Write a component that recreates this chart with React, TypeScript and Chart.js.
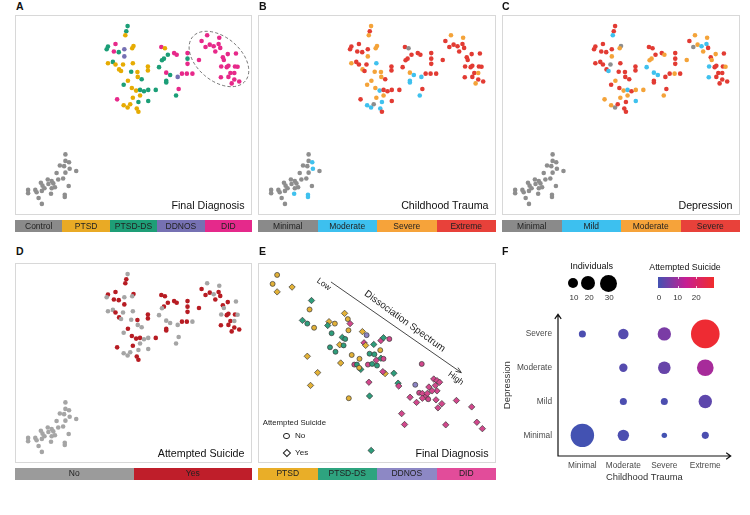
import React, { useEffect, useRef } from "react";
import { Chart, registerables } from "chart.js";

Chart.register(...registerables);

const FONT = "'Liberation Sans', Arial, Helvetica, sans-serif";
Chart.defaults.font.family = FONT;

// ---------- Panels A–D: one shared 2-D embedding of all participants ----------
const embedX = [
  33.7, 33.3, 33.0, 30.0, 27.7, 27.3, 29.5, 31.0, 32.7, 32.7,
  35.5, 35.1, 27.7, 29.2, 30.0, 31.1, 31.7, 32.3, 35.3, 34.8,
  36.7, 39.9, 39.9, 32.5, 33.8, 36.8, 38.0, 35.0, 36.3, 37.5,
  38.7, 40.0, 42.3, 37.5, 35.3, 30.5, 40.0, 37.0, 32.5, 33.7,
  34.5, 36.5, 37.0,
  44.0, 45.1, 46.0, 47.9, 48.7, 52.0, 52.0, 44.8, 44.2, 43.3,
  52.0, 45.5, 46.7, 45.5, 45.5, 49.0, 50.3, 51.8, 53.5, 49.3,
  48.5, 55.5,
  58.0, 61.7, 56.3, 57.5, 58.8, 60.0, 61.5, 60.5, 62.0, 64.3,
  66.8, 62.8, 63.1, 64.5, 62.3, 64.0, 66.5, 67.3, 65.1, 66.3,
  62.2, 66.3, 67.8, 65.5, 64.5,
  14.7, 13.0, 14.7, 15.8, 14.3, 18.0, 16.0, 12.0, 14.0, 14.7,
  12.5, 9.3, 10.5, 11.0, 9.5, 7.2, 7.7, 8.3, 7.5, 5.5,
  5.9, 3.3, 3.3, 10.5, 11.5, 10.3, 14.5, 14.5, 15.7, 6.5, 7.5,
];
const embedY = [
  57.3, 55.7, 54.5, 51.8, 51.0, 50.2, 49.5, 49.3, 50.2, 48.0,
  51.2, 50.5, 45.9, 46.3, 45.5, 44.0, 43.5, 45.5, 45.9, 43.3,
  43.2, 44.9, 43.7, 39.3, 40.5, 41.7, 41.0, 38.3, 37.5, 37.7,
  37.3, 37.7, 37.7, 36.0, 35.3, 34.8, 34.3, 34.0, 33.0, 32.3,
  33.3, 32.0, 31.0,
  50.9, 50.5, 48.5, 49.0, 48.5, 49.0, 47.3, 47.3, 46.8, 44.7,
  45.7, 43.0, 42.3, 40.5, 40.0, 41.7, 42.7, 42.7, 42.7, 38.0,
  36.0, 46.9,
  54.5, 53.7, 52.7, 50.9, 51.6, 51.1, 51.8, 49.5, 50.6, 48.7,
  48.9, 47.7, 46.9, 45.1, 44.9, 44.7, 44.9, 44.8, 42.9, 42.9,
  41.6, 40.9, 40.3, 39.7, 41.7,
  17.9, 14.5, 15.9, 15.5, 14.3, 12.8, 13.5, 12.2, 10.5, 12.3,
  10.2, 10.2, 9.7, 9.0, 8.8, 9.2, 8.3, 7.5, 6.7, 7.0,
  6.3, 7.0, 6.0, 7.5, 7.8, 5.8, 5.5, 4.8, 8.2, 4.5, 2.7,
];
// 0 Control, 1 PTSD, 2 PTSD-DS, 3 DDNOS, 4 DID
const finalDiagnosis = [
  2, 2, 1, 4, 2, 2, 4, 2, 3, 3,
  1, 1, 1, 2, 1, 1, 1, 1, 1, 2,
  1, 1, 1, 2, 1, 1, 2, 1, 1, 2,
  2, 2, 2, 1, 1, 4, 2, 2, 1, 1,
  1, 1, 1,
  4, 1, 2, 4, 4, 4, 2, 2, 2, 2,
  4, 4, 2, 2, 2, 3, 4, 4, 4, 4,
  2, 4,
  4, 4, 4, 4, 4, 4, 4, 4, 4, 4,
  4, 4, 4, 4, 4, 4, 4, 4, 4, 4,
  4, 4, 4, 4, 4,
  0, 0, 0, 0, 0, 0, 0, 0, 0, 0,
  0, 0, 0, 0, 0, 0, 0, 0, 0, 0,
  0, 0, 0, 0, 0, 0, 0, 0, 0, 0, 0,
];
// 0 Minimal, 1 Moderate, 2 Severe, 3 Extreme
const childhoodTrauma = [
  2, 3, 2, 3, 3, 3, 3, 3, 3, 2,
  2, 2, 2, 3, 3, 2, 3, 3, 1, 2,
  2, 3, 3, 2, 2, 2, 3, 2, 1, 3,
  3, 3, 3, 2, 2, 3, 3, 1, 1, 1,
  0, 1, 3,
  3, 0, 3, 3, 3, 3, 3, 3, 3, 3,
  3, 2, 1, 1, 1, 1, 3, 3, 3, 3,
  1, 3,
  2, 2, 3, 3, 3, 3, 3, 3, 3, 3,
  3, 3, 3, 3, 3, 3, 3, 3, 3, 2,
  3, 3, 3, 2, 3,
  0, 0, 0, 1, 0, 0, 1, 0, 0, 0,
  0, 0, 0, 0, 0, 0, 0, 0, 0, 0,
  0, 0, 0, 0, 0, 1, 1, 1, 0, 0, 0,
];
// 0 Minimal, 1 Mild, 2 Moderate, 3 Severe
const depression = [
  3, 3, 1, 3, 3, 3, 3, 3, 3, 2,
  0, 2, 3, 3, 3, 3, 1, 0, 3, 3,
  3, 3, 3, 3, 2, 3, 3, 3, 2, 1,
  3, 2, 2, 2, 2, 2, 1, 3, 2, 0,
  3, 3, 3,
  3, 3, 3, 3, 2, 3, 3, 2, 2, 1,
  3, 1, 1, 3, 3, 3, 3, 2, 3, 3,
  2, 2,
  2, 2, 3, 0, 2, 1, 1, 2, 3, 2,
  3, 3, 2, 3, 1, 3, 3, 2, 3, 3,
  1, 3, 3, 3, 3,
  0, 0, 0, 0, 0, 0, 0, 0, 0, 0,
  0, 0, 0, 0, 0, 0, 0, 0, 0, 0,
  0, 0, 0, 0, 0, 0, 0, 0, 0, 0, 0,
];
// 0 No, 1 Yes
const attemptedSuicide = [
  0, 1, 1, 1, 1, 0, 1, 1, 0, 1,
  1, 0, 0, 0, 1, 1, 0, 0, 0, 0,
  1, 1, 1, 0, 1, 0, 0, 1, 1, 1,
  0, 0, 1, 0, 1, 1, 0, 0, 0, 0,
  0, 1, 1,
  1, 1, 1, 1, 1, 1, 1, 1, 0, 0,
  1, 0, 0, 1, 1, 0, 1, 1, 0, 0,
  0, 1,
  0, 0, 1, 1, 1, 0, 1, 1, 1, 1,
  0, 1, 0, 1, 0, 1, 1, 0, 1, 0,
  1, 1, 1, 1, 1,
  0, 0, 0, 0, 0, 0, 0, 0, 0, 0,
  0, 0, 0, 0, 0, 0, 0, 0, 0, 0,
  0, 0, 0, 0, 0, 0, 0, 0, 0, 0, 0,
];

const diagnosisLabels = ["Control", "PTSD", "PTSD-DS", "DDNOS", "DID"];
const traumaLabels = ["Minimal", "Moderate", "Severe", "Extreme"];
const depressionLabels = ["Minimal", "Mild", "Moderate", "Severe"];
const suicideLabels = ["No", "Yes"];

// ---------- Panel E: dissociation embedding of patients ----------
const eX = [
  4.7, 3.3, 4.7, 9.3, 15.3, 14.7, 12.5, 14.0, 16.1, 20.7,
  20.3, 22.5, 25.5, 26.5, 27.2, 26.7, 21.5, 24.8, 25.7, 24.0,
  25.2, 21.0, 22.7, 31.0, 32.3, 31.5, 32.0, 34.5, 36.7, 37.5,
  39.3, 36.5, 27.7, 33.2, 34.7, 30.1, 28.5, 29.3, 30.5, 30.0,
  32.7, 34.0, 35.5, 35.3, 36.7, 38.0, 37.3, 40.7, 24.3, 14.0,
  17.2, 15.0, 33.0, 42.0, 42.2, 49.3, 47.3, 48.5, 49.5, 50.5,
  51.5, 45.7, 47.7, 49.5, 51.3, 53.0, 54.0, 54.8, 53.5, 54.0,
  52.5, 51.0, 53.7, 55.5, 54.3, 60.0, 26.8, 33.2, 43.1, 44.0,
  56.7, 64.7, 66.3, 68.0, 33.7, 37.5,
];
const eY = [
  57.5, 54.7, 52.2, 53.7, 49.5, 46.7, 43.3, 42.3, 41.0, 42.9,
  41.7, 42.3, 45.5, 43.7, 42.3, 40.2, 39.3, 38.0, 37.5, 35.7,
  35.5, 34.9, 33.5, 39.8, 38.7, 36.3, 35.5, 35.8, 37.0, 37.9,
  37.5, 34.0, 32.5, 32.9, 32.7, 31.3, 29.5, 29.5, 28.0, 28.5,
  29.5, 29.7, 29.2, 30.9, 31.5, 26.7, 27.3, 26.8, 30.0, 32.1,
  27.0, 23.0, 24.0, 23.7, 22.8, 29.7, 23.2, 20.7, 20.5, 19.5,
  22.5, 19.3, 17.7, 19.0, 18.7, 25.0, 24.5, 24.0, 23.0, 21.3,
  21.3, 20.5, 18.5, 17.3, 16.0, 18.3, 19.0, 19.7, 14.2, 10.8,
  10.7, 16.3, 11.5, 9.5, 2.7, 31.3,
];
const eDiagnosis = [
  1, 1, 1, 1, 2, 1, 2, 2, 1, 1,
  2, 1, 1, 1, 4, 1, 2, 2, 2, 1,
  2, 2, 2, 1, 3, 4, 1, 2, 4, 2,
  4, 1, 1, 2, 2, 1, 4, 2, 2, 1,
  4, 2, 2, 4, 2, 1, 4, 2, 1, 1,
  1, 1, 4, 2, 4, 4, 3, 4, 4, 4,
  4, 4, 4, 4, 4, 4, 4, 4, 4, 4,
  4, 4, 4, 4, 4, 4, 1, 2, 4, 4,
  4, 4, 4, 4, 2, 4,
];
const eSuicide = [
  0, 0, 1, 1, 1, 0, 1, 0, 0, 1,
  1, 0, 1, 0, 1, 0, 0, 1, 0, 1,
  0, 0, 0, 1, 0, 1, 1, 1, 1, 1,
  0, 0, 0, 0, 0, 0, 0, 0, 1, 0,
  0, 0, 0, 1, 1, 1, 1, 1, 1, 1,
  1, 1, 1, 1, 1, 0, 0, 0, 1, 1,
  1, 1, 1, 1, 0, 1, 1, 1, 1, 1,
  1, 1, 1, 1, 1, 1, 0, 1, 1, 1,
  1, 1, 1, 1, 1, 0,
];

// ---------- Panel F: individuals / attempted suicide per cell ----------
// columns follow traumaLabels
const individualsDepMinimal = [55, 13, 3, 5];
const individualsDepMild = [0, 5, 5, 18];
const individualsDepModerate = [0, 7, 16, 28];
const individualsDepSevere = [5, 11, 18, 82];
const suicideDepMinimal = [0, 1, 0, 1];
const suicideDepMild = [0, 1, 1, 3];
const suicideDepModerate = [0, 2, 4, 11];
const suicideDepSevere = [1, 2, 6, 28];
const sizeLegendValues = [10, 20, 30];
const colorLegendTicks = [0, 10, 20];
const suicideMax = 29;

// ---------- styling ----------
const diagnosisPoint = ["#8e8e8e", "#E6AB02", "#1B9E77", "#7570B3", "#E7298A"];
const diagnosisBar = ["#8a8a8a", "#E9AA25", "#1E9E77", "#7671B3", "#E5298B"];
const severityPoint = ["#8e8e8e", "#3FC1EE", "#F4A339", "#E23B33"];
const severityBar = ["#8a8a8a", "#3DC0EF", "#F6A33A", "#E8413A"];
const suicidePoint = ["#a5a5a5", "#B71C23"];
const suicideBar = ["#9b9b9b", "#BF1E2A"];
const eFill = ["", "#E2B137", "#2E9D7B", "#8C84C4", "#D2478C"];
const eBar = ["#E9AE28", "#2EA47F", "#8D88C5", "#E24C9A"];

const didEllipse = { cx: 61.6, cy: 47.2, a: 10.5, b: 6.7, angleDeg: 40 };
const spectrumArrow = { fromX: 21.3, fromY: 55.3, toX: 61.5, toY: 27.0 };

const gradStops: [number, number[]][] = [
  [0, [67, 82, 178]],
  [0.5, [199, 30, 147]],
  [1, [241, 44, 44]],
];
function suicideColor(v: number) {
  const t = Math.max(0, Math.min(1, v / suicideMax));
  for (let i = 0; i < gradStops.length - 1; i++) {
    const [t0, c0] = gradStops[i];
    const [t1, c1] = gradStops[i + 1];
    if (t <= t1) {
      const u = (t - t0) / (t1 - t0);
      const c = c0.map((v0, k) => Math.round(v0 + (c1[k] - v0) * u));
      return `rgb(${c[0]},${c[1]},${c[2]})`;
    }
  }
  return "rgb(241,44,44)";
}
const sizeOf = (n: number) => 1.58 * Math.sqrt(n);

type Box = { left: number; top: number; width: number; height: number };

function ChartCanvas({ box, build }: { box: Box; build: () => any }) {
  const ref = useRef<HTMLCanvasElement | null>(null);
  useEffect(() => {
    if (!ref.current) return;
    const chart = new Chart(ref.current, build());
    return () => chart.destroy();
  }, []);
  return (
    <canvas
      ref={ref}
      width={box.width}
      height={box.height}
      style={{ position: "absolute", left: box.left, top: box.top, width: box.width, height: box.height }}
    />
  );
}

function scatterOptions() {
  return {
    responsive: false,
    animation: false,
    devicePixelRatio: 1,
    events: [],
    layout: { padding: 0 },
    plugins: { legend: { display: false }, tooltip: { enabled: false } },
    scales: {
      x: { type: "linear", min: 0, max: 71, display: false },
      y: { type: "linear", min: 0, max: 60, display: false },
    },
  };
}

const ellipsePlugin = {
  id: "didEllipse",
  afterDatasetsDraw(chart: any) {
    const { ctx, scales } = chart;
    const x = scales.x, y = scales.y;
    const cx = x.getPixelForValue(didEllipse.cx);
    const cy = y.getPixelForValue(didEllipse.cy);
    const rx = x.getPixelForValue(didEllipse.cx + didEllipse.a) - cx;
    const ry = cy - y.getPixelForValue(didEllipse.cy + didEllipse.b);
    ctx.save();
    ctx.setLineDash([3.2, 2.2]);
    ctx.strokeStyle = "#555";
    ctx.lineWidth = 0.8;
    ctx.beginPath();
    ctx.ellipse(cx, cy, rx, ry, (didEllipse.angleDeg * Math.PI) / 180, 0, Math.PI * 2);
    ctx.stroke();
    ctx.restore();
  },
};

const arrowPlugin = {
  id: "spectrumArrow",
  beforeDatasetsDraw(chart: any) {
    const { ctx, scales } = chart;
    const x0 = scales.x.getPixelForValue(spectrumArrow.fromX);
    const y0 = scales.y.getPixelForValue(spectrumArrow.fromY);
    const x1 = scales.x.getPixelForValue(spectrumArrow.toX);
    const y1 = scales.y.getPixelForValue(spectrumArrow.toY);
    const ang = Math.atan2(y1 - y0, x1 - x0);
    const L = 6;
    ctx.save();
    ctx.strokeStyle = "#333";
    ctx.lineWidth = 0.9;
    ctx.beginPath();
    ctx.moveTo(x0, y0);
    ctx.lineTo(x1, y1);
    ctx.moveTo(x1 - L * Math.cos(ang - 0.38), y1 - L * Math.sin(ang - 0.38));
    ctx.lineTo(x1, y1);
    ctx.lineTo(x1 - L * Math.cos(ang + 0.38), y1 - L * Math.sin(ang + 0.38));
    ctx.stroke();
    ctx.restore();
  },
};

const axisArrowPlugin = {
  id: "axisArrows",
  afterDraw(chart: any) {
    const { ctx, chartArea } = chart;
    const { left, right, top, bottom } = chartArea;
    ctx.save();
    ctx.strokeStyle = "#111";
    ctx.lineWidth = 1.2;
    ctx.beginPath();
    ctx.moveTo(left, top);
    ctx.lineTo(left, bottom);
    ctx.lineTo(right, bottom);
    ctx.moveTo(left - 3.2, top + 4.5);
    ctx.lineTo(left, top);
    ctx.lineTo(left + 3.2, top + 4.5);
    ctx.moveTo(right - 4.5, bottom - 3.2);
    ctx.lineTo(right, bottom);
    ctx.lineTo(right - 4.5, bottom + 3.2);
    ctx.stroke();
    ctx.restore();
  },
};

function embeddingConfig(codes: number[], palette: string[], plugins: any[] = []) {
  return {
    type: "scatter",
    data: {
      datasets: [
        {
          data: embedX.map((x, i) => ({ x, y: embedY[i] })),
          pointRadius: 2.3,
          pointHoverRadius: 2.3,
          pointBorderWidth: 0,
          pointBackgroundColor: codes.map((c) => palette[c]),
        },
      ],
    },
    options: scatterOptions(),
    plugins,
  };
}

function dissociationConfig() {
  return {
    type: "scatter",
    data: {
      datasets: [
        {
          data: eX.map((x, i) => ({ x, y: eY[i] })),
          pointStyle: eSuicide.map((s) => (s ? "rectRot" : "circle")),
          pointRadius: eSuicide.map((s) => (s ? 3.2 : 2.5)),
          pointHoverRadius: 3,
          pointBackgroundColor: eDiagnosis.map((d) => eFill[d]),
          pointBorderColor: "#3a3a3a",
          pointBorderWidth: 0.7,
        },
      ],
    },
    options: scatterOptions(),
    plugins: [arrowPlugin],
  };
}

function bubbleConfig() {
  const individuals = [individualsDepMinimal, individualsDepMild, individualsDepModerate, individualsDepSevere];
  const suicides = [suicideDepMinimal, suicideDepMild, suicideDepModerate, suicideDepSevere];
  const pts: any[] = [];
  depressionLabels.forEach((_, di) =>
    traumaLabels.forEach((_, ti) => {
      const n = individuals[di][ti];
      if (n > 0) pts.push({ x: ti, y: di, r: sizeOf(n), s: suicides[di][ti] });
    })
  );
  const tickFont = { family: FONT, size: 8.3 };
  return {
    type: "bubble",
    data: {
      datasets: [
        {
          data: pts,
          backgroundColor: pts.map((p) => suicideColor(p.s)),
          borderWidth: 0,
          hoverRadius: 0,
          clip: false,
        },
      ],
    },
    options: {
      responsive: false,
      animation: false,
      devicePixelRatio: 1,
      events: [],
      layout: { padding: { top: 5, right: 10, left: 0, bottom: 0 } },
      plugins: { legend: { display: false }, tooltip: { enabled: false } },
      scales: {
        x: {
          type: "linear",
          min: -0.595,
          max: 3.62,
          grid: { display: false, drawTicks: false },
          border: { display: false },
          afterBuildTicks: (s: any) => {
            s.ticks = traumaLabels.map((_, i) => ({ value: i }));
          },
          afterFit: (s: any) => {
            s.height = 39;
          },
          ticks: {
            callback: (v: any) => traumaLabels[v] ?? "",
            font: tickFont,
            color: "#4a4a4a",
            padding: 5,
            maxRotation: 0,
            autoSkip: false,
          },
          title: {
            display: true,
            text: "Childhood Trauma",
            font: { family: FONT, size: 9.4 },
            color: "#333",
            padding: { top: 0, bottom: 12 },
          },
        },
        y: {
          type: "linear",
          min: -0.61,
          max: 3.58,
          grid: { display: false, drawTicks: false },
          border: { display: false },
          afterBuildTicks: (s: any) => {
            s.ticks = depressionLabels.map((_, i) => ({ value: i }));
          },
          afterFit: (s: any) => {
            s.width = 58;
          },
          ticks: {
            callback: (v: any) => depressionLabels[v] ?? "",
            font: tickFont,
            color: "#4a4a4a",
            padding: 6,
            autoSkip: false,
          },
          title: {
            display: true,
            text: "Depression",
            font: { family: FONT, size: 9.5 },
            color: "#333",
            padding: { top: 2, bottom: 0 },
          },
        },
      },
    },
    plugins: [axisArrowPlugin],
  };
}

// ---------- small HTML helpers ----------
function Text({
  x, y, text, size, align = "left", color = "#222", weight = 400, rotate = 0,
}: {
  x: number; y: number; text: string; size: number; align?: "left" | "center" | "right";
  color?: string; weight?: number; rotate?: number;
}) {
  const tx = align === "left" ? "0" : align === "center" ? "-50%" : "-100%";
  return (
    <div
      style={{
        position: "absolute", left: x, top: y, fontSize: size, lineHeight: 1, color,
        fontWeight: weight, whiteSpace: "nowrap",
        transform: `translate(${tx}, -50%) rotate(${rotate}deg)`,
        transformOrigin: align === "center" ? "50% 50%" : undefined,
      }}
    >
      {text}
    </div>
  );
}

function Strip({ box, labels, colors }: { box: Box; labels: string[]; colors: string[] }) {
  return (
    <div style={{ position: "absolute", left: box.left, top: box.top, width: box.width, height: box.height, display: "flex" }}>
      {labels.map((l, i) => (
        <div
          key={l}
          style={{
            flex: 1, background: colors[i], fontSize: 8.5, lineHeight: `${box.height}px`,
            textAlign: "center", color: "#222", overflow: "hidden", whiteSpace: "nowrap",
          }}
        >
          {l}
        </div>
      ))}
    </div>
  );
}

function Frame({ box }: { box: Box }) {
  return (
    <div
      style={{
        position: "absolute", left: box.left, top: box.top, width: box.width, height: box.height,
        border: "1px solid #d8d8d8", boxSizing: "border-box", pointerEvents: "none",
      }}
    />
  );
}

function Letter({ x, y, t }: { x: number; y: number; t: string }) {
  return (
    <div style={{ position: "absolute", left: x, top: y, fontSize: 10.5, lineHeight: 1, fontWeight: 700, color: "#111" }}>
      {t}
    </div>
  );
}

function Caption({ box, text }: { box: Box; text: string }) {
  return <Text x={box.left + box.width - 7.5} y={box.top + box.height - 10.5} text={text} size={10.7} align="right" color="#111" />;
}

const frameA: Box = { left: 15, top: 15, width: 237, height: 200 };
const frameB: Box = { left: 258, top: 15, width: 238, height: 200 };
const frameC: Box = { left: 502, top: 15, width: 238, height: 200 };
const frameD: Box = { left: 15, top: 263, width: 237, height: 200 };
const frameE: Box = { left: 258, top: 263, width: 238, height: 200 };
const stripOf = (f: Box, top: number, h: number): Box => ({ left: f.left, top, width: f.width, height: h });

export default function App() {
  const legendSizeX = [572.7, 587.7, 608.5];
  const legendNumX = [574, 589.3, 609.3];
  const barLeft = 658;
  const barWidth = 55.5;
  const valToBar = (v: number) => barLeft + 1 + (v / suicideMax) * (barWidth - 1.5);
  return (
    <div
      style={{
        position: "absolute", left: 0, top: 0, width: 750, height: 515, background: "#fff",
        fontFamily: FONT, overflow: "hidden",
      }}
    >
      {/* A */}
      <Letter x={16} y={1.4} t="A" />
      <ChartCanvas box={frameA} build={() => embeddingConfig(finalDiagnosis, diagnosisPoint, [ellipsePlugin])} />
      <Frame box={frameA} />
      <Caption box={frameA} text="Final Diagnosis" />
      <Strip box={stripOf(frameA, 220, 12)} labels={diagnosisLabels} colors={diagnosisBar} />

      {/* B */}
      <Letter x={259} y={1.4} t="B" />
      <ChartCanvas box={frameB} build={() => embeddingConfig(childhoodTrauma, severityPoint)} />
      <Frame box={frameB} />
      <Caption box={frameB} text="Childhood Trauma" />
      <Strip box={stripOf(frameB, 220, 12)} labels={traumaLabels} colors={severityBar} />

      {/* C */}
      <Letter x={502} y={1.4} t="C" />
      <ChartCanvas box={frameC} build={() => embeddingConfig(depression, severityPoint)} />
      <Frame box={frameC} />
      <Caption box={frameC} text="Depression" />
      <Strip box={stripOf(frameC, 220, 12)} labels={depressionLabels} colors={severityBar} />

      {/* D */}
      <Letter x={16} y={245.5} t="D" />
      <ChartCanvas box={frameD} build={() => embeddingConfig(attemptedSuicide, suicidePoint)} />
      <Frame box={frameD} />
      <Caption box={frameD} text="Attempted Suicide" />
      <Strip box={stripOf(frameD, 468, 11.5)} labels={suicideLabels} colors={suicideBar} />

      {/* E */}
      <Letter x={259} y={245.5} t="E" />
      <ChartCanvas box={frameE} build={dissociationConfig} />
      <Frame box={frameE} />
      <Caption box={frameE} text="Final Diagnosis" />
      <Strip box={stripOf(frameE, 468, 11.5)} labels={diagnosisLabels.slice(1)} colors={eBar} />
      <Text x={323.7} y={284.3} text="Low" size={8.3} align="center" rotate={36} />
      <Text x={405} y={320.7} text="Dissociation Spectrum" size={9.8} align="center" rotate={36} />
      <Text x={456.3} y={378.3} text="High" size={8.3} align="center" rotate={36} />
      <Text x={262.7} y={423.3} text="Attempted Suicide" size={7.8} color="#222" />
      <div
        style={{
          position: "absolute", left: 286.7 - 3.4, top: 436 - 3.4, width: 6.8, height: 6.8,
          borderRadius: "50%", border: "1px solid #222", boxSizing: "border-box",
        }}
      />
      <Text x={295} y={436} text={suicideLabels[0]} size={8.1} />
      <div
        style={{
          position: "absolute", left: 286.7 - 2.9, top: 452.7 - 2.9, width: 5.8, height: 5.8,
          border: "1px solid #222", boxSizing: "border-box", transform: "rotate(45deg)",
        }}
      />
      <Text x={295} y={452.7} text={suicideLabels[1]} size={8.1} />

      {/* F */}
      <Letter x={502} y={245.5} t="F" />
      <ChartCanvas box={{ left: 500, top: 300, width: 245, height: 195 }} build={bubbleConfig} />
      <Text x={591.7} y={267} text="Individuals" size={9.1} align="center" color="#111" />
      {sizeLegendValues.map((n, i) => {
        const r = sizeOf(n);
        return (
          <div
            key={n}
            style={{
              position: "absolute", left: legendSizeX[i] - r, top: 283.3 - r, width: 2 * r, height: 2 * r,
              borderRadius: "50%", background: "#000",
            }}
          />
        );
      })}
      {sizeLegendValues.map((n, i) => (
        <Text key={n} x={legendNumX[i]} y={297.7} text={String(n)} size={8} align="center" color="#333" />
      ))}
      <Text x={685} y={267} text="Attempted Suicide" size={8.8} align="center" color="#111" />
      <div
        style={{
          position: "absolute", left: barLeft, top: 277.3, width: barWidth, height: 11,
          background: `linear-gradient(to right, ${suicideColor(0)}, ${suicideColor(suicideMax / 2)}, ${suicideColor(suicideMax)})`,
        }}
      />
      {colorLegendTicks.slice(1).map((v) => (
        <React.Fragment key={v}>
          <div style={{ position: "absolute", left: valToBar(v), top: 277.3, width: 0.8, height: 2.2, background: "rgba(255,255,255,0.8)" }} />
          <div style={{ position: "absolute", left: valToBar(v), top: 286.1, width: 0.8, height: 2.2, background: "rgba(255,255,255,0.8)" }} />
        </React.Fragment>
      ))}
      {colorLegendTicks.map((v) => (
        <Text key={v} x={valToBar(v)} y={297.7} text={String(v)} size={8} align="center" color="#333" />
      ))}
    </div>
  );
}
